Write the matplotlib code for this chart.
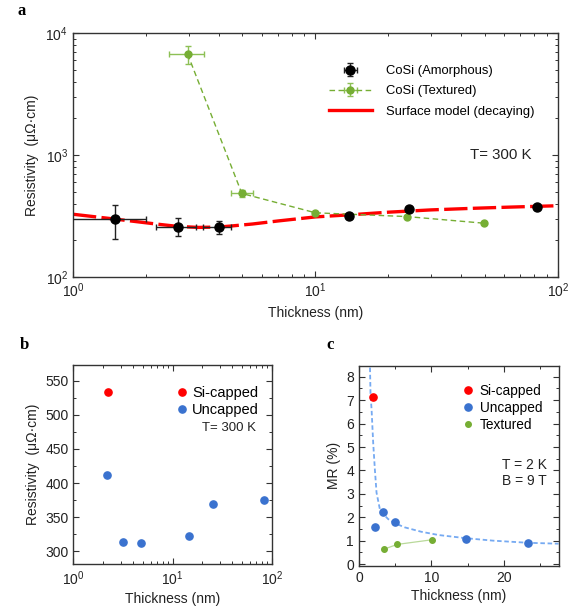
import numpy as np
import matplotlib
matplotlib.use("Agg")
import matplotlib.pyplot as plt
from matplotlib.ticker import MultipleLocator, LogLocator, NullFormatter

plt.rcParams['font.family'] = ['Liberation Sans', 'DejaVu Sans']
plt.rcParams['mathtext.fontset'] = 'custom'
plt.rcParams['mathtext.rm'] = 'Liberation Sans'
plt.rcParams['mathtext.it'] = 'Liberation Sans'
plt.rcParams['font.size'] = 10
plt.rcParams['axes.linewidth'] = 1.0
plt.rcParams['axes.edgecolor'] = '#333333'

# panel a - amorphous CoSi
amor_t = [1.49, 2.70, 3.99, 13.8, 24.4, 81.6]
amor_rho = [298, 258, 257, 315, 364, 378]
amor_xerr = [[0.5, 0.5, 0.54, 0, 0, 0], [0.51, 0.52, 0.49, 0, 0, 0]]
amor_yerr = [[92, 41, 30, 0, 0, 0], [90, 45, 29, 0, 0, 0]]

# panel a - textured CoSi
tex_t = [2.97, 4.97, 10.0, 23.8, 49.7]
tex_rho = [6720, 484, 336, 313, 276]
tex_xerr = [[0.47, 0.48, 0, 0, 0], [0.51, 0.53, 0, 0, 0]]
tex_yerr = [[1120, 30, 0, 0, 0], [1040, 30, 0, 0, 0]]

# panel a - surface model curve
model_t = [1, 1.5, 2.2, 2.7, 3.3, 4, 4.5, 5.5, 7, 10, 14, 20, 30, 45, 63, 100]
model_rho = [327, 298, 272, 260, 255, 257, 262, 272, 288, 311, 324, 340, 355, 366, 374, 384]

# panel b
cap_t = [2.22]
cap_rho = [533]
unc_t = [2.19, 3.19, 4.79, 14.5, 25.5, 83.2]
unc_rho = [412, 313, 312, 322.5, 369, 375.5]

# panel c
mr_cap_t = [1.88]
mr_cap = [7.12]
mr_unc_t = [2.16, 3.26, 5.0, 14.7, 23.3]
mr_unc = [1.57, 2.24, 1.78, 1.08, 0.91]
mr_tex_t = [3.39, 5.28, 10.1]
mr_tex = [0.63, 0.84, 1.04]
fit_t = [1.51, 1.6, 1.75, 1.97, 2.2, 2.43, 2.89, 3.4, 4.04, 5.0, 6.3, 8.6, 11.0, 14.6, 18.5, 23.3, 27.5]
fit_mr = [8.7, 7.29, 6.58, 5.17, 4.04, 3.05, 2.34, 2.12, 1.92, 1.74, 1.57, 1.38, 1.24, 1.11, 1.0, 0.91, 0.87]

RED = '#ff0000'
BLUE = '#3a72cf'
GREEN = '#76ae34'
TXT = '#222222'

fig = plt.figure(figsize=(5.77, 6.11), dpi=100)
ax_a = fig.add_axes([0.1265, 0.5466, 0.8405, 0.3994])
ax_b = fig.add_axes([0.127, 0.0764, 0.344, 0.3262])
ax_c = fig.add_axes([0.622, 0.0741, 0.346, 0.3269])


def style(ax):
    ax.tick_params(which='both', direction='in', top=True, right=True,
                   colors='#333333', labelcolor=TXT, labelsize=10)
    ax.tick_params(which='major', length=4.5, width=0.8)
    ax.tick_params(which='minor', length=2.5, width=0.7)


# ---- a ----
ax_a.plot(model_t, model_rho, color=RED, lw=2.4, dashes=(7, 1.6), zorder=2)
ax_a.errorbar(tex_t, tex_rho, xerr=tex_xerr, yerr=tex_yerr, color=GREEN, ecolor='#8dc055',
              marker='o', ms=5, lw=1.0, ls=(0, (4, 2.5)), elinewidth=1.0, capsize=2.5,
              zorder=3, label='CoSi (Textured)')
ax_a.errorbar(amor_t, amor_rho, xerr=amor_xerr, yerr=amor_yerr, color='black', ecolor='#222222',
              marker='o', ms=6.5, ls='none', elinewidth=1.0, capsize=2.5, zorder=4,
              label='CoSi (Amorphous)')
ax_a.plot([], [], color=RED, lw=2.4, label='Surface model (decaying)')
ax_a.set_xscale('log')
ax_a.set_yscale('log')
ax_a.set_xlim(1, 100)
ax_a.set_ylim(100, 10000)
style(ax_a)
ax_a.xaxis.set_minor_locator(LogLocator(base=10, subs=np.arange(2, 10)))
ax_a.yaxis.set_minor_locator(LogLocator(base=10, subs=np.arange(2, 10)))
ax_a.xaxis.set_minor_formatter(NullFormatter())
ax_a.yaxis.set_minor_formatter(NullFormatter())
ax_a.set_xlabel('Thickness (nm)', fontsize=10, color=TXT, labelpad=4)
ax_a.set_ylabel('Resistivity  (μΩ·cm)', fontsize=10, color=TXT, labelpad=5)
h, l = ax_a.get_legend_handles_labels()
order = [l.index('CoSi (Amorphous)'), l.index('CoSi (Textured)'), l.index('Surface model (decaying)')]
ax_a.legend([h[i] for i in order], [l[i] for i in order], loc='upper right',
            bbox_to_anchor=(0.975, 0.917), frameon=False, fontsize=9.4, handlelength=3.3,
            handletextpad=1.05, labelspacing=0.62)
ax_a.text(0.946, 0.5, 'T= 300 K', transform=ax_a.transAxes, ha='right', va='center',
          fontsize=10.8, color=TXT)
fig.text(0.03, 0.982, 'a', fontsize=12, fontweight='bold', family='Liberation Serif', va='center')

# ---- b ----
ax_b.plot(cap_t, cap_rho, 'o', color=RED, ms=5.2, label='Si-capped')
ax_b.plot(unc_t, unc_rho, 'o', color=BLUE, ms=5.2, label='Uncapped')
ax_b.set_xscale('log')
ax_b.set_xlim(1, 100)
ax_b.set_ylim(281, 573)
style(ax_b)
ax_b.xaxis.set_minor_locator(LogLocator(base=10, subs=np.arange(2, 10)))
ax_b.xaxis.set_minor_formatter(NullFormatter())
ax_b.yaxis.set_major_locator(MultipleLocator(50))
ax_b.yaxis.set_minor_locator(MultipleLocator(25))
ax_b.set_xlabel('Thickness (nm)', fontsize=10, color=TXT, labelpad=3)
ax_b.set_ylabel('Resistivity  (μΩ·cm)', fontsize=10, color=TXT, labelpad=4)
ax_b.legend(loc='upper right', bbox_to_anchor=(0.98, 0.94), frameon=False, fontsize=10.5,
            handlelength=0.8, handletextpad=0.3, labelspacing=0.22, borderaxespad=0.2)
ax_b.text(0.92, 0.684, 'T= 300 K', transform=ax_b.transAxes, ha='right', va='center',
          fontsize=9.5, color=TXT)
fig.text(0.035, 0.436, 'b', fontsize=12, fontweight='bold', family='Liberation Serif', va='center')

# ---- c ----
ax_c.plot(fit_t, fit_mr, color='#76aaf2', lw=1.3, ls=(0, (2.5, 1.5)), zorder=1)
ax_c.plot(mr_tex_t, mr_tex, '-', color='#b9d99a', lw=0.9, zorder=2)
ax_c.plot(mr_tex_t, mr_tex, 'o', color=GREEN, ms=4, zorder=3, label='Textured')
ax_c.plot(mr_unc_t, mr_unc, 'o', color=BLUE, ms=5.2, zorder=3, label='Uncapped')
ax_c.plot(mr_cap_t, mr_cap, 'o', color=RED, ms=5.2, zorder=3, label='Si-capped')
ax_c.set_xlim(0, 27.5)
ax_c.set_ylim(-0.07, 8.46)
style(ax_c)
ax_c.xaxis.set_major_locator(MultipleLocator(10))
ax_c.xaxis.set_minor_locator(MultipleLocator(5))
ax_c.yaxis.set_major_locator(MultipleLocator(1))
ax_c.yaxis.set_minor_locator(MultipleLocator(0.5))
ax_c.set_xlabel('Thickness (nm)', fontsize=10, color=TXT, labelpad=3)
ax_c.set_ylabel('MR (%)', fontsize=10, color=TXT, labelpad=4)
h, l = ax_c.get_legend_handles_labels()
ax_c.legend(h[::-1], l[::-1], loc='upper right', bbox_to_anchor=(0.96, 0.95), frameon=False,
            fontsize=9.8, handlelength=0.8, handletextpad=0.45, labelspacing=0.22,
            borderaxespad=0.2)
ax_c.text(0.94, 0.464, 'T = 2 K\nB = 9 T', transform=ax_c.transAxes, ha='right', va='center',
          fontsize=10, color=TXT, linespacing=1.25)
fig.text(0.565, 0.436, 'c', fontsize=12, fontweight='bold', family='Liberation Serif', va='center')

fig.savefig('out.png', dpi=100)
